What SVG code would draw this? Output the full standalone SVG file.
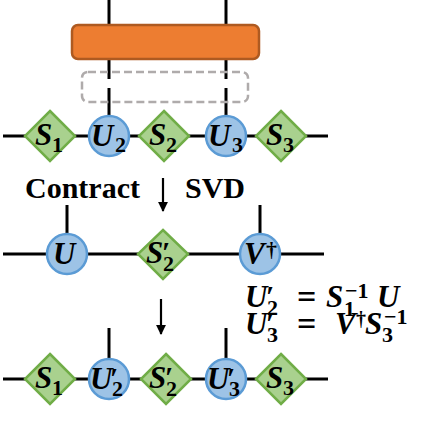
<svg xmlns="http://www.w3.org/2000/svg" width="427" height="426" viewBox="0 0 427 426">
<defs>
<style>
.ln{stroke:#000;stroke-width:3;fill:none}
.dia{fill:#A9D18E;stroke:#70AD47;stroke-width:2.5}
.cir{fill:#9DC3E6;stroke:#5B9BD5;stroke-width:2.5}
.m{font-family:"Liberation Serif","Times New Roman",serif;font-weight:bold;font-style:italic;font-size:31px;fill:#000}
.sub{font-size:22px;font-style:normal}
.pr{font-size:30px;font-style:normal}
.up{font-style:normal}
.lbl{font-family:"Liberation Serif","Times New Roman",serif;font-weight:bold;font-size:30px;fill:#000}
</style>
<marker id="ah" viewBox="0 0 10 10" refX="9" refY="5" markerWidth="5" markerHeight="4.5" markerUnits="strokeWidth" orient="auto">
<path d="M0,0 L10,5 L0,10 z" fill="#000"/>
</marker>
</defs>

<g id="connectors">
<line class="ln" x1="3" y1="136" x2="328" y2="136"/>
<line class="ln" x1="109" y1="0" x2="109" y2="26"/>
<line class="ln" x1="226" y1="0" x2="226" y2="26"/>
<line class="ln" x1="109" y1="59" x2="109" y2="79"/>
<line class="ln" x1="109" y1="88" x2="109" y2="116"/>
<line class="ln" x1="226" y1="59" x2="226" y2="79"/>
<line class="ln" x1="226" y1="88" x2="226" y2="116"/>
<line class="ln" x1="3" y1="254" x2="324" y2="254"/>
<line class="ln" x1="67" y1="205" x2="67" y2="234"/>
<line class="ln" x1="260" y1="205" x2="260" y2="234"/>
<line class="ln" x1="3" y1="379" x2="328" y2="379"/>
<line class="ln" x1="109" y1="328" x2="109" y2="359"/>
<line class="ln" x1="226" y1="328" x2="226" y2="359"/>
<line x1="163" y1="178" x2="163" y2="211" stroke="#000" stroke-width="2.2" marker-end="url(#ah)"/>
<line x1="161" y1="299" x2="161" y2="334" stroke="#000" stroke-width="2.2" marker-end="url(#ah)"/>
</g>

<g id="gate">
<rect x="72" y="25" width="187" height="34" rx="6" fill="#ED7D31" stroke="#AE5A21" stroke-width="2.5"/>
</g>
<g id="dashed-box">
<rect x="82" y="72" width="166" height="30" rx="6" fill="none" stroke="#AFABAB" stroke-width="2.5" stroke-dasharray="8,4"/>
</g>

<g id="t-S1"><path class="dia" d="M50,111 L75,136 L50,161 L25,136 Z"/><text class="m" x="35" y="145">S<tspan class="sub" x="52" y="152">1</tspan></text></g>
<g id="t-U2"><circle class="cir" cx="109" cy="136" r="20"/><text class="m" x="91" y="146">U<tspan class="sub" x="115" y="152">2</tspan></text></g>
<g id="t-S2"><path class="dia" d="M164,111 L189,136 L164,161 L139,136 Z"/><text class="m" x="149" y="145">S<tspan class="sub" x="166" y="152">2</tspan></text></g>
<g id="t-U3"><circle class="cir" cx="226" cy="136" r="20"/><text class="m" x="208" y="146">U<tspan class="sub" x="232" y="152">3</tspan></text></g>
<g id="t-S3"><path class="dia" d="M281,111 L306,136 L281,161 L256,136 Z"/><text class="m" x="266" y="145">S<tspan class="sub" x="283" y="152">3</tspan></text></g>

<g id="label-contract"><text class="lbl" x="25" y="198">Contract</text></g>
<g id="label-svd"><text class="lbl" x="185" y="198">SVD</text></g>

<g id="m-U"><circle class="cir" cx="67" cy="254" r="20"/><text class="m" x="53" y="264">U</text></g>
<g id="m-S2p"><path class="dia" d="M163,230 L188,254 L163,279 L138,254 Z"/><text class="m" x="146" y="263">S<tspan class="pr" x="162" y="262">′</tspan><tspan class="sub" x="163" y="271">2</tspan></text></g>
<g id="m-Vd"><circle class="cir" cx="260" cy="254" r="20"/><text class="m" x="244" y="264">V<tspan class="up" font-size="22px" x="266" y="257">†</tspan></text></g>

<g id="eq1"><text class="m" x="245" y="307">U<tspan class="pr" x="266" y="306">′</tspan><tspan class="sub" x="267" y="315">2</tspan><tspan class="up" font-size="34px" x="297" y="308">=</tspan><tspan x="326" y="307">S</tspan><tspan class="sub" x="345" y="298">−1</tspan><tspan class="sub" x="344" y="316">1</tspan><tspan x="377" y="307">U</tspan></text></g>
<g id="eq2"><text class="m" x="245" y="334">U<tspan class="pr" x="266" y="333">′</tspan><tspan class="sub" x="267" y="342">3</tspan><tspan class="up" font-size="34px" x="297" y="335">=</tspan><tspan x="335" y="334">V</tspan><tspan class="up" font-size="20px" x="356" y="326">†</tspan><tspan x="365" y="334">S</tspan><tspan class="sub" x="384" y="324">−1</tspan><tspan class="sub" x="382" y="342">3</tspan></text></g>

<g id="b-S1"><path class="dia" d="M50,354 L75,379 L50,404 L25,379 Z"/><text class="m" x="35" y="388">S<tspan class="sub" x="52" y="395">1</tspan></text></g>
<g id="b-U2p"><circle class="cir" cx="109" cy="379" r="20"/><text class="m" x="90" y="389">U<tspan class="pr" x="110" y="388">′</tspan><tspan class="sub" x="112" y="396">2</tspan></text></g>
<g id="b-S2p"><path class="dia" d="M166,354 L191,379 L166,404 L141,379 Z"/><text class="m" x="149" y="388">S<tspan class="pr" x="165" y="387">′</tspan><tspan class="sub" x="166" y="396">2</tspan></text></g>
<g id="b-U3p"><circle class="cir" cx="226" cy="379" r="20"/><text class="m" x="207" y="389">U<tspan class="pr" x="227" y="388">′</tspan><tspan class="sub" x="229" y="396">3</tspan></text></g>
<g id="b-S3"><path class="dia" d="M281,354 L306,379 L281,404 L256,379 Z"/><text class="m" x="266" y="388">S<tspan class="sub" x="283" y="395">3</tspan></text></g>
</svg>
